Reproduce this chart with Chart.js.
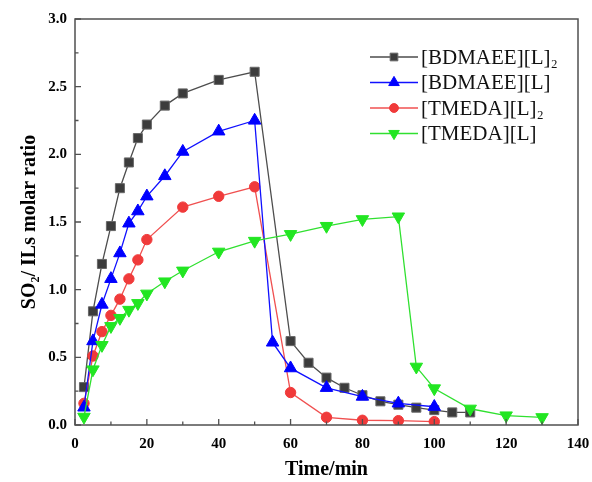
<!DOCTYPE html>
<html>
<head>
<meta charset="utf-8">
<script src="https://cdn.jsdelivr.net/npm/chart.js@4/dist/chart.umd.min.js"></script>
<style>
  html, body { margin: 0; padding: 0; background: #ffffff; }
  #wrap { width: 592px; height: 482px; }
</style>
</head>
<body>
<div id="wrap"><canvas id="c" width="592" height="482"></canvas></div>
<script>
// ---- data ----
const seriesNames = ['[BDMAEE][L]\u2082', '[BDMAEE][L]', '[TMEDA][L]\u2082', '[TMEDA][L]'];

const timeBDMAEE_L2 = [2.5, 5, 7.5, 10, 12.5, 15, 17.5, 20, 25, 30, 40, 50, 60, 65, 70, 75, 80, 85, 90, 95, 100, 105, 110];
const ratioBDMAEE_L2 = [0.28, 0.84, 1.19, 1.47, 1.75, 1.94, 2.12, 2.22, 2.36, 2.45, 2.55, 2.61, 0.62, 0.46, 0.35, 0.275, 0.22, 0.175, 0.15, 0.128, 0.11, 0.093, 0.093];

const timeBDMAEE_L = [2.5, 5, 7.5, 10, 12.5, 15, 17.5, 20, 25, 30, 40, 50, 55, 60, 70, 80, 90, 100];
const ratioBDMAEE_L = [0.13, 0.62, 0.89, 1.08, 1.27, 1.49, 1.58, 1.69, 1.84, 2.02, 2.17, 2.25, 0.61, 0.42, 0.275, 0.21, 0.16, 0.135];

const timeTMEDA_L2 = [2.5, 5, 7.5, 10, 12.5, 15, 17.5, 20, 30, 40, 50, 60, 70, 80, 90, 100];
const ratioTMEDA_L2 = [0.16, 0.51, 0.69, 0.81, 0.93, 1.08, 1.22, 1.37, 1.61, 1.69, 1.76, 0.24, 0.057, 0.035, 0.032, 0.025];

const timeTMEDA_L = [2.5, 5, 7.5, 10, 12.5, 15, 17.5, 20, 25, 30, 40, 50, 60, 70, 80, 90, 95, 100, 110, 120, 130];
const ratioTMEDA_L = [0.06, 0.41, 0.59, 0.73, 0.79, 0.85, 0.90, 0.97, 1.06, 1.14, 1.28, 1.36, 1.41, 1.47, 1.52, 1.54, 0.43, 0.27, 0.12, 0.07, 0.057];

const xTickValues = [0, 20, 40, 60, 80, 100, 120, 140];
const xTickLabels = ['0', '20', '40', '60', '80', '100', '120', '140'];
const yTickValues = [0, 0.5, 1.0, 1.5, 2.0, 2.5, 3.0];
const yTickLabels = ['0.0', '0.5', '1.0', '1.5', '2.0', '2.5', '3.0'];

const xTitle = 'Time/min';
const yTitle = 'SO\u2082/ ILs molar ratio';

// ---- helpers ----
function pts(xs, ys) { return xs.map((x, i) => ({ x: x, y: ys[i] })); }

const styles = [
  { line: '#4d4d4d', fill: '#3c3c3c', border: '#686868', shape: 'rect', r: 6.4, rot: 0 },
  { line: '#1010ff', fill: '#0000ff', border: '#0000ff', shape: 'triangle', r: 7.2, rot: 0 },
  { line: '#f05050', fill: '#f03a3a', border: '#f03a3a', shape: 'circle', r: 5.2, rot: 0 },
  { line: '#30e030', fill: '#22e622', border: '#22e622', shape: 'triangle', r: 7.2, rot: 180 }
];
const seriesData = [
  pts(timeBDMAEE_L2, ratioBDMAEE_L2),
  pts(timeBDMAEE_L, ratioBDMAEE_L),
  pts(timeTMEDA_L2, ratioTMEDA_L2),
  pts(timeTMEDA_L, ratioTMEDA_L)
];

const datasets = seriesNames.map((name, i) => ({
  label: name,
  data: seriesData[i],
  borderColor: styles[i].line,
  backgroundColor: styles[i].fill,
  pointBackgroundColor: styles[i].fill,
  pointBorderColor: styles[i].border,
  pointBorderWidth: 1,
  pointStyle: styles[i].shape,
  pointRadius: styles[i].r,
  pointRotation: styles[i].rot,
  pointHoverRadius: styles[i].r,
  borderWidth: 1.3,
  tension: 0,
  fill: false,
  order: [3, 1, 2, 0][i]
}));

const SERIF = "'Liberation Serif', 'Times New Roman', serif";

const frameTicksPlugin = {
  id: 'frameTicks',
  afterDatasetsDraw(chart) {
    const { ctx, chartArea: a, scales } = chart;
    const xs = scales.x, ys = scales.y;
    ctx.save();
    ctx.strokeStyle = '#505050';
    ctx.lineWidth = 1.5;
    ctx.strokeRect(a.left, a.top, a.right - a.left, a.bottom - a.top);
    ctx.lineWidth = 1.3;
    ctx.beginPath();
    for (let v = 0; v <= 140; v += 10) {
      const px = xs.getPixelForValue(v);
      const len = (v % 20 === 0) ? 6 : 3.5;
      ctx.moveTo(px, a.bottom);
      ctx.lineTo(px, a.bottom - len);
    }
    for (let k = 0; k <= 12; k++) {
      const v = k * 0.25;
      const py = ys.getPixelForValue(v);
      const len = (k % 2 === 0) ? 6 : 3.5;
      ctx.moveTo(a.left, py);
      ctx.lineTo(a.left + len, py);
    }
    ctx.stroke();
    ctx.restore();
  }
};

const legendPlugin = {
  id: 'customLegend',
  afterDraw(chart) {
    const ctx = chart.ctx;
    const x0 = 370, x1 = 418, textX = 421, y0 = 57, dy = 25.5;
    ctx.save();
    ctx.font = '21px ' + SERIF;
    ctx.textBaseline = 'middle';
    ctx.fillStyle = '#111111';
    seriesNames.forEach((name, i) => {
      const y = y0 + i * dy;
      const s = styles[i];
      ctx.strokeStyle = s.line;
      ctx.lineWidth = 1.5;
      ctx.beginPath();
      ctx.moveTo(x0, y);
      ctx.lineTo(x1, y);
      ctx.stroke();
      ctx.fillStyle = s.fill;
      ctx.strokeStyle = s.border;
      ctx.lineWidth = 1;
      Chart.helpers.drawPoint(ctx, { pointStyle: s.shape, radius: s.r * 0.85, rotation: s.rot, borderWidth: 1 }, (x0 + x1) / 2, y);
      ctx.fillStyle = '#111111';
      ctx.fillText(name, textX, y + 1);
    });
    ctx.restore();
  }
};

new Chart(document.getElementById('c'), {
  type: 'line',
  data: { datasets: datasets },
  options: {
    responsive: false,
    animation: false,
    devicePixelRatio: 1,
    layout: { padding: { top: 19, right: 14, left: 0, bottom: 0 } },
    plugins: { legend: { display: false }, tooltip: { enabled: false } },
    scales: {
      x: {
        type: 'linear',
        min: 0, max: 140,
        afterFit(scale) { scale.height = 57; scale.paddingRight = 0; scale.paddingLeft = 0; },
        afterBuildTicks(scale) { scale.ticks = xTickValues.map(v => ({ value: v })); },
        ticks: {
          callback: (v, i) => xTickLabels[i],
          color: '#000000',
          font: { family: SERIF, size: 15, weight: 'bold' },
          padding: 10,
          maxRotation: 0,
          autoSkip: false
        },
        grid: { display: false, drawTicks: false },
        border: { display: false },
        title: {
          display: true, text: xTitle, color: '#000000',
          font: { family: SERIF, size: 20, weight: 'bold' },
          padding: { top: 0, bottom: 0 }
        }
      },
      y: {
        type: 'linear',
        min: 0, max: 3.0,
        afterFit(scale) { scale.width = 75; },
        afterBuildTicks(scale) { scale.ticks = yTickValues.map(v => ({ value: v })); },
        ticks: {
          callback: (v, i) => yTickLabels[i],
          color: '#000000',
          font: { family: SERIF, size: 15, weight: 'bold' },
          padding: 8,
          autoSkip: false
        },
        grid: { display: false, drawTicks: false },
        border: { display: false },
        title: {
          display: true, text: yTitle, color: '#000000',
          font: { family: SERIF, size: 20, weight: 'bold' },
          padding: { top: 18, bottom: 0 }
        }
      }
    }
  },
  plugins: [frameTicksPlugin, legendPlugin]
});
</script>
</body>
</html>
